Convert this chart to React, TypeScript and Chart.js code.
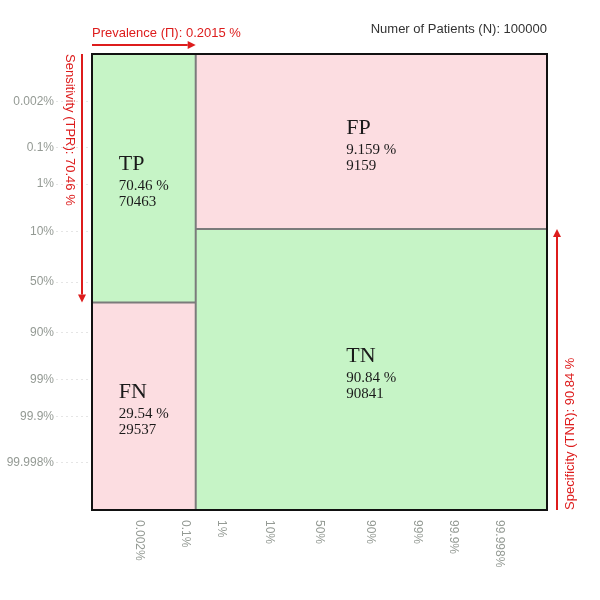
import { useEffect, useRef } from "react";
import { Chart, registerables } from "chart.js";

Chart.register(...registerables);

// test summary
const patients = 100000;
const prevalence = 0.002015;
const sensitivity = 0.70463;
const specificity = 0.90841;

// axis ticks (probabilities) and their labels
const tickProbs = [0.00002, 0.001, 0.01, 0.1, 0.5, 0.9, 0.99, 0.999, 0.99998];
const tickLabels = ["0.002%", "0.1%", "1%", "10%", "50%", "90%", "99%", "99.9%", "99.998%"];

const cellNames = ["TP", "FN", "FP", "TN"];

// the axes are a softened logit scale
const SOFT = 5;
const LIMIT = 1.915;
const warp = (p: number) => Math.asinh(Math.log(p / (1 - p)) / SOFT);

const GREEN = "#c6f4c6";
const PINK = "#fcdde1";
const EDGE = "#7b7b7b";
const RED = "#dd1c1c";
const SANS = "'Liberation Sans', Arial, sans-serif";
const SERIF = "'Liberation Serif', 'Times New Roman', serif";

const fmt = (v: number) => (v * 100).toPrecision(4) + " %";

const drawArrow = (ctx: CanvasRenderingContext2D, x0: number, y0: number, x1: number, y1: number) => {
  const a = Math.atan2(y1 - y0, x1 - x0);
  const head = 8;
  ctx.beginPath();
  ctx.moveTo(x0, y0);
  ctx.lineTo(x1 - Math.cos(a) * head, y1 - Math.sin(a) * head);
  ctx.stroke();
  ctx.beginPath();
  ctx.moveTo(x1, y1);
  ctx.lineTo(x1 - Math.cos(a) * head - Math.sin(a) * 4, y1 - Math.sin(a) * head + Math.cos(a) * 4);
  ctx.lineTo(x1 - Math.cos(a) * head + Math.sin(a) * 4, y1 - Math.sin(a) * head - Math.cos(a) * 4);
  ctx.closePath();
  ctx.fill();
};

const overlay = {
  id: "overlay",
  afterDraw(chart: any) {
    const { ctx, chartArea: area, scales } = chart;
    const xs = scales.x;
    const ys = scales.y;
    const xPrev = xs.getPixelForValue(warp(prevalence));
    const ySens = ys.getPixelForValue(warp(sensitivity));
    const ySpec = ys.getPixelForValue(warp(1 - specificity));
    ctx.save();

    // cell captions
    const cells = [
      { name: cellNames[0], share: sensitivity, x0: area.left, x1: xPrev, y0: area.top, y1: ySens },
      { name: cellNames[1], share: 1 - sensitivity, x0: area.left, x1: xPrev, y0: ySens, y1: area.bottom },
      { name: cellNames[2], share: 1 - specificity, x0: xPrev, x1: area.right, y0: area.top, y1: ySpec },
      { name: cellNames[3], share: specificity, x0: xPrev, x1: area.right, y0: ySpec, y1: area.bottom },
    ];
    ctx.fillStyle = "#1a1a1a";
    ctx.textAlign = "left";
    ctx.textBaseline = "alphabetic";
    cells.forEach((c) => {
      const cx = (c.x0 + c.x1) / 2;
      const cy = (c.y0 + c.y1) / 2;
      const pct = fmt(c.share);
      const count = String(Math.round(c.share * patients));
      ctx.font = "15px " + SERIF;
      const w = Math.max(ctx.measureText(pct).width, ctx.measureText(count).width);
      const left = cx - w / 2;
      ctx.font = "22px " + SERIF;
      ctx.fillText(c.name, left, cy - 8);
      ctx.font = "15px " + SERIF;
      ctx.fillText(pct, left, cy + 12);
      ctx.fillText(count, left, cy + 28);
    });

    // plot frame
    ctx.strokeStyle = "#111";
    ctx.lineWidth = 2;
    ctx.strokeRect(area.left, area.top, area.right - area.left, area.bottom - area.top);

    // x tick labels, turned clockwise
    ctx.font = "12px " + SANS;
    ctx.fillStyle = "#949a94";
    ctx.textBaseline = "middle";
    xs.ticks.forEach((t: any, i: number) => {
      ctx.save();
      ctx.translate(xs.getPixelForValue(t.value), area.bottom + 10);
      ctx.rotate(Math.PI / 2);
      ctx.fillText(tickLabels[i], 0, 0);
      ctx.restore();
    });

    // annotations
    ctx.font = "13px " + SANS;
    ctx.fillStyle = "#333";
    ctx.textAlign = "right";
    ctx.fillText("Numer of Patients (N): " + patients, area.right, area.top - 25);

    ctx.fillStyle = RED;
    ctx.strokeStyle = RED;
    ctx.lineWidth = 2;
    ctx.textAlign = "left";
    ctx.fillText("Prevalence (\u03a0): " + (prevalence * 100).toPrecision(4) + " %", area.left, area.top - 21);
    drawArrow(ctx, area.left, area.top - 9, xPrev, area.top - 9);

    ctx.save();
    ctx.translate(area.left - 22, area.top);
    ctx.rotate(Math.PI / 2);
    ctx.fillText("Sensitivity (TPR): " + fmt(sensitivity), 0, 0);
    ctx.restore();
    drawArrow(ctx, area.left - 10, area.top, area.left - 10, ySens);

    ctx.save();
    ctx.translate(area.right + 23, area.bottom);
    ctx.rotate(-Math.PI / 2);
    ctx.fillText("Specificity (TNR): " + fmt(specificity), 0, 0);
    ctx.restore();
    drawArrow(ctx, area.right + 10, area.bottom, area.right + 10, ySpec);

    ctx.restore();
  },
};

const setTicks = (scale: any) => {
  scale.ticks = tickProbs.map((p) => ({ value: warp(p) }));
};

export default function App() {
  const canvasRef = useRef<HTMLCanvasElement | null>(null);

  useEffect(() => {
    if (!canvasRef.current) return;
    const prev = warp(prevalence);
    const sens = warp(sensitivity);
    const fpr = warp(1 - specificity);

    const cell = (label: string, x0: number, x1: number, y0: number, y1: number, color: string) => ({
      label,
      data: [{ x: x0, y: y0 }, { x: x1, y: y0 }],
      fill: { value: y1 },
      backgroundColor: color,
      borderWidth: 0,
      order: 1,
    });
    const edge = (label: string, x0: number, x1: number, y0: number, y1: number) => ({
      label,
      data: [{ x: x0, y: y0 }, { x: x1, y: y1 }],
      fill: false,
      borderColor: EDGE,
      borderWidth: 2,
      order: 0,
    });

    const chart = new Chart(canvasRef.current, {
      type: "line",
      data: {
        datasets: [
          cell(cellNames[0], -LIMIT, prev, -LIMIT, sens, GREEN),
          cell(cellNames[1], -LIMIT, prev, sens, LIMIT, PINK),
          cell(cellNames[2], prev, LIMIT, -LIMIT, fpr, PINK),
          cell(cellNames[3], prev, LIMIT, fpr, LIMIT, GREEN),
          edge("sensitivity", -LIMIT, prev, sens, sens),
          edge("specificity", prev, LIMIT, fpr, fpr),
          edge("prevalence", prev, prev, -LIMIT, LIMIT),
        ] as any,
      },
      options: {
        animation: false,
        responsive: true,
        maintainAspectRatio: false,
        events: [],
        elements: { point: { radius: 0 }, line: { tension: 0 } },
        layout: { padding: { top: 54, right: 53, bottom: 0, left: 0 } },
        plugins: { legend: { display: false }, tooltip: { enabled: false } },
        scales: {
          x: {
            type: "linear",
            min: -LIMIT,
            max: LIMIT,
            z: 1,
            afterBuildTicks: setTicks,
            afterFit: (s: any) => {
              s.height = 90;
            },
            ticks: { display: false },
            border: { display: false },
            grid: { color: "rgba(0,0,0,0.07)", drawTicks: false },
          },
          y: {
            type: "linear",
            reverse: true,
            min: -LIMIT,
            max: LIMIT,
            z: 1,
            afterBuildTicks: setTicks,
            afterFit: (s: any) => {
              s.width = 92;
            },
            ticks: {
              padding: 2,
              color: "#949a94",
              font: { family: SANS, size: 12 },
              callback: (_v: any, i: number) => tickLabels[i],
            },
            border: { display: false },
            grid: {
              color: "rgba(0,0,0,0.07)",
              tickColor: "rgba(0,0,0,0.1)",
              tickLength: 36,
              tickBorderDash: [2, 3],
            },
          },
        },
      },
      plugins: [overlay],
    });

    return () => chart.destroy();
  }, []);

  return (
    <div style={{ position: "fixed", left: 0, top: 0, width: 600, height: 600, background: "#fff" }}>
      <canvas ref={canvasRef} />
    </div>
  );
}
